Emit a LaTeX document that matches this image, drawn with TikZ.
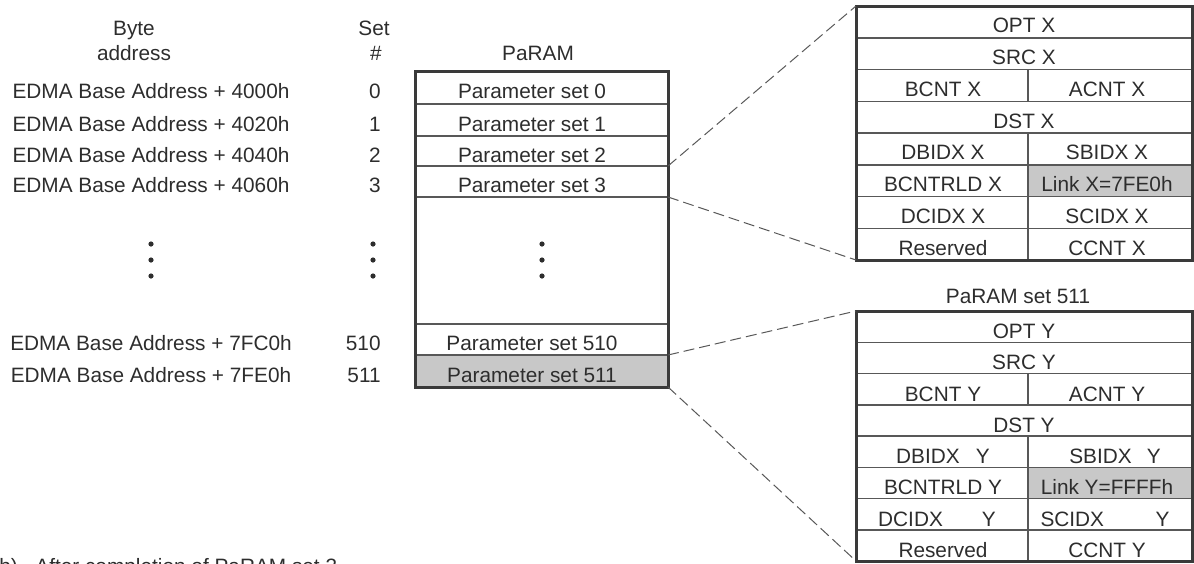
\documentclass[tikz,border=0pt]{standalone}
\usepackage{fontspec}
\setmainfont{Liberation Sans}
\usepackage{xcolor}
\definecolor{rimgray}{RGB}{58,58,58}
\definecolor{rulegray}{RGB}{88,88,88}
\definecolor{inkgray}{RGB}{45,45,45}
\definecolor{cellgray}{RGB}{200,200,200}
\newcommand{\regframe}[2]{% top y, row height: 8-row register frame, x 856..1192
  \fill[cellgray] (1028,#1+5*#2) rectangle (1192,#1+6*#2);
  \foreach \r in {1,...,7}
    \draw[rulegray,line width=.75pt] (856,#1+\r*#2) -- (1192,#1+\r*#2);
  \draw[rulegray,line width=.75pt] (1028,#1+2*#2) -- (1028,#1+3*#2);
  \draw[rulegray,line width=.75pt] (1028,#1+4*#2) -- (1028,#1+8*#2);
  \draw[rimgray,line width=1.5pt] (856,#1) rectangle (1192,#1+8*#2);
}

\begin{document}
\begin{tikzpicture}[x=0.5pt,y=-0.5pt,
  lbl/.style={font=\fontsize{10.4}{12}\selectfont,text=inkgray,inner sep=0pt,text height=7.5pt,text depth=0pt},
  zoomline/.style={rulegray,line width=.5pt,dash pattern=on 5.5pt off 2.5pt}]
  \useasboundingbox (0,0) rectangle (1194,563);
  \node[lbl] (bytehd) at (134,27.5){Byte};
  \node[lbl] (addrhd) at (134,52.5){address};
  \node[lbl] (sethd) at (374,27.5){Set};
  \node[lbl] (numhd) at (376,52.5){\#};
  \node[lbl] (paramhd) at (538,52.5){PaRAM};
  \fill[cellgray] (415,355) rectangle (668,387);
  \foreach \yy in {104,136,166,197,324,355}
    \draw[rulegray,line width=.75pt] (415,\yy) -- (668,\yy);
  \draw[rimgray,line width=1.5pt] (415,71) rectangle (668,387);
  \foreach \n/\yy/\off in {0/91/4000h,1/123.5/4020h,2/154.5/4040h,3/185/4060h,510/343/7FC0h,511/374.5/7FE0h}{
    \node[lbl] (addr\n) at (151,\yy){EDMA Base Address + \off};
    \node[lbl,anchor=east] (set\n) at (381,\yy){\n};
    \node[lbl] (ps\n) at (532,\yy){Parameter set \n};
  }
  \foreach \xx in {151,373,542}
    \foreach \yy in {244,260,276}
      \fill[inkgray] (\xx,\yy) circle (1.3pt);
  \regframe{6}{31.75}
  \node[lbl] (optx) at (1024,25){OPT X};
  \node[lbl] (srcx) at (1024,57){SRC X};
  \node[lbl] (bcntx) at (943,89){BCNT X};
  \node[lbl] (acntx) at (1107,89){ACNT X};
  \node[lbl] (dstx) at (1024,121){DST X};
  \node[lbl] (dbidxx) at (943,152){DBIDX X};
  \node[lbl] (sbidxx) at (1107,152){SBIDX X};
  \node[lbl] (bcntrldx) at (943,184){BCNTRLD X};
  \node[lbl] (linkx) at (1107,184){Link X=7FE0h};
  \node[lbl] (dcidxx) at (943,216){DCIDX X};
  \node[lbl] (scidxx) at (1107,216){SCIDX X};
  \node[lbl] (rsvx) at (943,248){Reserved};
  \node[lbl] (ccntx) at (1107,248){CCNT X};
  \node[lbl] (sethd511) at (1018,296){PaRAM set 511};
  \regframe{311}{31.25}
  \node[lbl] (opty) at (1024,331){OPT Y};
  \node[lbl] (srcy) at (1024,362){SRC Y};
  \node[lbl] (bcnty) at (943,394){BCNT Y};
  \node[lbl] (acnty) at (1107,394){ACNT Y};
  \node[lbl] (dsty) at (1024,425){DST Y};
  \node[lbl] (dbidxy) at (943,456){DBIDX\hspace{0.5em} Y};
  \node[lbl] (sbidxy) at (1115,456){SBIDX\hspace{0.45em} Y};
  \node[lbl] (bcntrldy) at (943,487){BCNTRLD Y};
  \node[lbl] (linky) at (1107,487){Link Y=FFFFh};
  \node[lbl] (dcidxy) at (937,519){DCIDX\hspace{1.6em} Y};
  \node[lbl] (scidxy) at (1105,519){SCIDX\hspace{2.2em} Y};
  \node[lbl] (rsvy) at (943,550){Reserved};
  \node[lbl] (ccnty) at (1107,550){CCNT Y};
  \coordinate (ps2se) at (668,166);
  \coordinate (ps3se) at (668,197);
  \coordinate (ps510se) at (668,355);
  \coordinate (ps511se) at (668,387);
  \coordinate (regxnw) at (856,6);
  \coordinate (regxsw) at (856,260);
  \coordinate (regynw) at (856,311);
  \coordinate (regysw) at (856,561);
  \draw[zoomline] (ps2se) -- (regxnw);
  \draw[zoomline] (ps3se) -- (regxsw);
  \draw[zoomline] (ps510se) -- (regynw);
  \draw[zoomline] (ps511se) -- (regysw);
  \node[lbl,anchor=west] (capb) at (-1,565.5){b)};
  \node[lbl,anchor=west] (captxt) at (35,565.5){After completion of PaRAM set 3};
\end{tikzpicture}
\end{document}
